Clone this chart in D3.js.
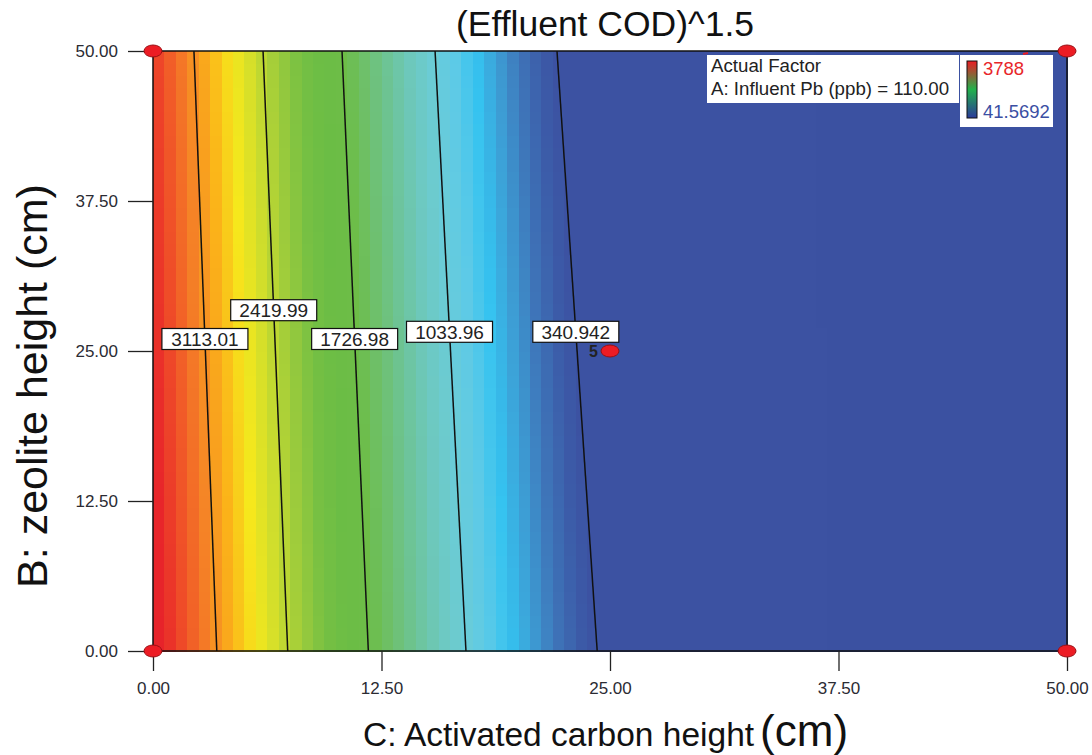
<!DOCTYPE html>
<html lang="en">
<head>
    <meta charset="UTF-8">
    <title>(Effluent COD)^1.5</title>
    <script src="https://d3js.org/d3.v7.min.js"></script>
    <style>
        body {
            margin: 0;
            background: #fff;
            font-family: "Liberation Sans", Arial, sans-serif;
        }
        svg text { font-family: "Liberation Sans", Arial, sans-serif; }
    </style>
</head>
<body>
<div id="chart"></div>
<script>
    // ---- data ----
    const xTicks = [0, 12.5, 25, 37.5, 50];
    const yTicks = [0, 12.5, 25, 37.5, 50];

    // contour levels and where each one meets the bottom (B = 0) and top (B = 50) edge, in C units
    const levels = [3113.01, 2419.99, 1726.98, 1033.96, 340.942];
    const levelLabels = ["3113.01", "2419.99", "1726.98", "1033.96", "340.942"];
    const crossAtB0 = [3.49, 7.37, 11.78, 17.12, 24.30];
    const crossAtB50 = [2.24, 6.02, 10.34, 15.43, 22.10];

    // response at the left edge (C = 0) and far right edge (C = 50), for B = 0 and B = 50
    const edgeAtC0 = [3788, 3560];
    const edgeAtC50 = [41.5692, 41.5692];
    const scaleMax = 3788, scaleMin = 41.5692;

    // design points
    const designPoints = [
        {c: 0, b: 0}, {c: 0, b: 50}, {c: 50, b: 0}, {c: 50, b: 50}, {c: 25, b: 25, n: "5"}
    ];

    // where along B the contour labels sit
    const labelAtB = [26, 28.4, 26, 26.6, 26.6];

    // ---- layout ----
    const width = 1092, height = 755;
    const x = d3.scaleLinear().domain([0, 50]).range([153, 1067]);
    const y = d3.scaleLinear().domain([0, 50]).range([651, 51]);

    // colour as a function of the response (banded fill of Design-Expert)
    const color = d3.scaleLinear()
        .domain([41.57, 341, 432, 556, 679, 803, 921, 1048, 1214, 1379, 1545, 1710, 1906,
                 2096, 2295, 2504, 2730, 2956, 3187, 3430, 3672, 3788])
        .range(["#3b51a1", "#3c52a2", "#3c5ba8", "#3e75b9", "#3d9dd4", "#35c3f0", "#5dcae7",
                "#6bccd6", "#6dc8be", "#6dc499", "#6ec06f", "#6dbd47", "#6bbd45", "#76c043",
                "#9ccb3c", "#cddd2d", "#f6e81c", "#fbb319", "#f58426", "#f05328", "#e8252a", "#e6212a"])
        .clamp(true);

    function crossAt(i, b) {
        const t = b / 50;
        return crossAtB0[i] + (crossAtB50[i] - crossAtB0[i]) * t;
    }

    function response(c, b) {
        const t = b / 50;
        const knotsC = [0, ...levels.map((l, i) => crossAt(i, b)), 50];
        const knotsZ = [edgeAtC0[0] + (edgeAtC0[1] - edgeAtC0[0]) * t, ...levels,
                        edgeAtC50[0] + (edgeAtC50[1] - edgeAtC50[0]) * t];
        return d3.scaleLinear().domain(knotsC).range(knotsZ)(c);
    }

    const svg = d3.select("#chart").append("svg")
        .attr("width", width)
        .attr("height", height);

    // filled cells
    const nx = 80, ny = 50;
    const cells = [];
    for (let i = 0; i < nx; i++) {
        for (let j = 0; j < ny; j++) {
            const c0 = i * 50 / nx, c1 = (i + 1) * 50 / nx;
            const b0 = j * 50 / ny, b1 = (j + 1) * 50 / ny;
            cells.push({c0, c1, b0, b1, z: response((c0 + c1) / 2, (b0 + b1) / 2)});
        }
    }
    svg.append("g")
        .selectAll("rect")
        .data(cells)
        .join("rect")
        .attr("x", d => x(d.c0))
        .attr("y", d => y(d.b1))
        .attr("width", d => x(d.c1) - x(d.c0) + 0.6)
        .attr("height", d => y(d.b0) - y(d.b1) + 0.6)
        .attr("fill", d => color(d.z))
        .attr("shape-rendering", "crispEdges");

    // contour lines
    const line = d3.line().x(d => x(d[0])).y(d => y(d[1]));
    svg.append("g")
        .selectAll("path")
        .data(levels.map((l, i) => [[crossAtB0[i], 0], [crossAtB50[i], 50]]))
        .join("path")
        .attr("d", line)
        .attr("fill", "none")
        .attr("stroke", "#111")
        .attr("stroke-width", 1.5);

    // contour labels
    const lab = svg.append("g")
        .selectAll("g")
        .data(levels.map((l, i) => ({text: levelLabels[i], c: crossAt(i, labelAtB[i]), b: labelAtB[i]})))
        .join("g")
        .attr("transform", d => `translate(${x(d.c)},${y(d.b)})`);
    lab.append("rect")
        .attr("x", -43).attr("y", -10.5)
        .attr("width", 86).attr("height", 21)
        .attr("fill", "#fff")
        .attr("stroke", "#111")
        .attr("stroke-width", 1.2);
    lab.append("text")
        .attr("text-anchor", "middle")
        .attr("y", 7)
        .attr("font-size", 19)
        .attr("fill", "#222")
        .text(d => d.text);

    // frame
    svg.append("rect")
        .attr("x", x(0)).attr("y", y(50))
        .attr("width", x(50) - x(0)).attr("height", y(0) - y(50))
        .attr("fill", "none")
        .attr("stroke", "#111")
        .attr("stroke-width", 1.5);

    // axes
    const yAxis = svg.append("g")
        .attr("transform", `translate(${x(0)},0)`)
        .call(d3.axisLeft(y).tickValues(yTicks).tickFormat(d3.format(".2f")).tickSize(25).tickPadding(10));
    const xAxis = svg.append("g")
        .attr("transform", `translate(0,${y(0)})`)
        .call(d3.axisBottom(x).tickValues(xTicks).tickFormat(d3.format(".2f")).tickSize(20).tickPadding(11));
    [xAxis, yAxis].forEach(a => {
        a.select(".domain").remove();
        a.selectAll(".tick line").attr("stroke", "#222").attr("stroke-width", 1.3);
        a.selectAll(".tick text").attr("font-size", 17).attr("fill", "#2b2b33")
            .style("font-family", "'Liberation Sans', Arial, sans-serif");
    });

    // design points
    svg.append("g")
        .selectAll("ellipse")
        .data(designPoints)
        .join("ellipse")
        .attr("cx", d => x(d.c))
        .attr("cy", d => y(d.b))
        .attr("rx", 9)
        .attr("ry", 6)
        .attr("fill", "#ec1c24")
        .attr("stroke", "#9a0f14")
        .attr("stroke-width", 1);
    svg.append("g")
        .selectAll("text")
        .data(designPoints.filter(d => d.n))
        .join("text")
        .attr("x", d => x(d.c) - 12)
        .attr("y", d => y(d.b) + 6)
        .attr("text-anchor", "end")
        .attr("font-size", 16)
        .attr("font-weight", "bold")
        .attr("fill", "#222")
        .text(d => d.n);

    // title
    svg.append("text")
        .attr("x", 605).attr("y", 36)
        .attr("text-anchor", "middle")
        .attr("font-size", 35.5)
        .attr("fill", "#111")
        .text("(Effluent COD)^1.5");

    // axis titles
    svg.append("text")
        .attr("transform", "translate(47,386) rotate(-90)")
        .attr("text-anchor", "middle")
        .attr("font-size", 43)
        .attr("fill", "#111")
        .text("B: zeolite height (cm)");
    const xt = svg.append("text")
        .attr("x", 363).attr("y", 746)
        .attr("fill", "#111");
    xt.append("tspan").attr("font-size", 33.5).text("C: Activated carbon height");
    xt.append("tspan").attr("font-size", 44).attr("dx", 6).text("(cm)");

    // legend: actual factor
    const leg = svg.append("g");
    leg.append("rect")
        .attr("x", 707).attr("y", 55).attr("width", 252).attr("height", 48)
        .attr("fill", "#fff");
    leg.append("text")
        .attr("x", 711).attr("y", 72)
        .attr("font-size", 18.7).attr("fill", "#222")
        .text("Actual Factor");
    leg.append("text")
        .attr("x", 711).attr("y", 95)
        .attr("font-size", 18.7).attr("fill", "#222")
        .text("A: Influent Pb (ppb) = 110.00");

    // legend: colour bar
    const grad = svg.append("defs").append("linearGradient")
        .attr("id", "bar").attr("x1", 0).attr("y1", 0).attr("x2", 0).attr("y2", 1);
    grad.append("stop").attr("offset", "0%").attr("stop-color", "#ec1c24");
    grad.append("stop").attr("offset", "50%").attr("stop-color", "#22b14c");
    grad.append("stop").attr("offset", "100%").attr("stop-color", "#2b3a9a");
    leg.append("rect")
        .attr("x", 960).attr("y", 55).attr("width", 93).attr("height", 72)
        .attr("fill", "#fff");
    leg.append("rect")
        .attr("x", 967).attr("y", 61).attr("width", 10).attr("height", 57)
        .attr("fill", "url(#bar)")
        .attr("stroke", "#111").attr("stroke-width", 1);
    leg.append("text")
        .attr("x", 983).attr("y", 75)
        .attr("font-size", 18.5).attr("fill", "#e8262a")
        .text(d3.format("d")(scaleMax));
    leg.append("text")
        .attr("x", 983).attr("y", 118)
        .attr("font-size", 18.5).attr("fill", "#3b4fa3")
        .text(String(scaleMin));
    leg.append("line")
        .attr("x1", 1023).attr("y1", 54).attr("x2", 1028).attr("y2", 53)
        .attr("stroke", "#ec1c24").attr("stroke-width", 2);
</script>
</body>
</html>
